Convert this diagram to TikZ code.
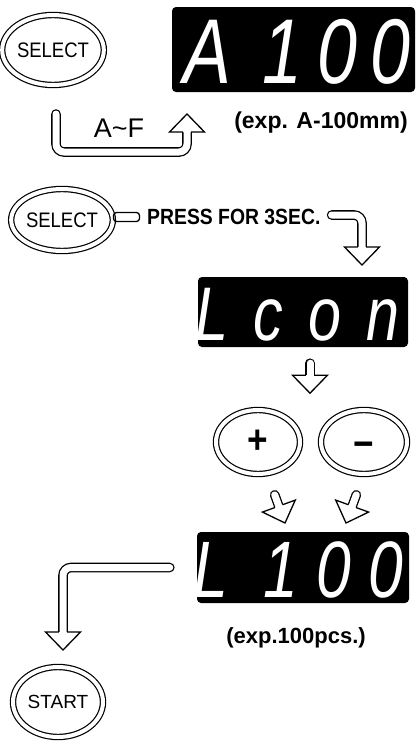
\documentclass[tikz,border=0pt]{standalone}
\usepackage{fontspec}
\setmainfont{Liberation Sans}
\newfontfamily\condfont[FakeStretch=0.88]{Liberation Sans}
\newfontfamily\segfont[FakeStretch=0.78]{Liberation Sans}
\usetikzlibrary{shapes.geometric,calc}
\tikzset{
	button/.style={draw, ellipse, double, double distance=4pt, line width=1.2pt,
			inner sep=0pt, minimum width=84pt, minimum height=68pt,
			font=\condfont\fontsize{21}{21}\selectfont},
	display/.style={fill=black, rounded corners=4pt, inner sep=0pt},
	seg/.style={text=white, inner sep=0pt, anchor=base,
			font=\segfont\itshape\fontsize{#1}{#1}\selectfont},
	note/.style={inner sep=0pt, font=\bfseries\fontsize{#1}{#1}\selectfont},
	hollow/.style={double=white, double distance=7pt, line width=1.3pt,
			line cap=round, rounded corners=8pt},
	pics/hhead/.style={code={
				\draw[line width=1.3pt, fill=white, line join=miter]
				(-4.1,-18) -- (-17.5,-18) -- (0,0) -- (17.5,-18) -- (4.1,-18);}}
}

\begin{document}
\begin{tikzpicture}[x=1pt,y=-1pt]
	\useasboundingbox (0,0) rectangle (418,745);
	\node[button, minimum height=70pt] (sel) at (53,50) {SELECT};
	\node[display, minimum width=243pt, minimum height=85pt] (dispA) at (293.5,49.5) {};
	\foreach \ch/\px [count=\i] in {A/207,1/282,0/337,0/390}
	\node[seg=92] (a\i) at (\px,83) {\ch};
	\node[inner sep=0pt, font=\fontsize{27}{27}\selectfont] (af) at (119,128) {A\textasciitilde F};
	\node[note=23] (expa) at (321,123) {(exp. A-100mm)};
	\coordinate (loopS) at (56,114);
	\coordinate (loopE) at (187,114);
	\draw[hollow] (loopS) |- ($(loopE)+(0,38)$) -- ($(loopE)+(0,18)$);
	\pic[rotate=180] at (loopE) {hhead};

	\node[button, minimum height=62pt] (sel2) at (62,220) {SELECT};
	\node[draw, line width=1.3pt, rounded corners=3pt, minimum width=26pt,
		minimum height=9pt, inner sep=0pt] (bar) at (126.5,217) {};
	\node[note=22, font=\condfont\bfseries\fontsize{22}{22}\selectfont, anchor=west] (press) at (147,217) {PRESS FOR 3SEC.};
	\coordinate (pressE) at (362,265);
	\draw[hollow] ([xshift=11pt,yshift=2pt]press.east) -| ($(pressE)+(0,-18)$);
	\pic at (pressE) {hhead};

	\node[display, minimum width=210pt, minimum height=70pt] (dispL) at (303,312) {};
	\foreach \ch/\px [count=\i] in {L/212,c/268,o/325,n/383}
	\node[seg=76] (l\i) at (\px,340) {\ch};
	\coordinate (downE) at ($(dispL.south)+(7,46)$);
	\draw[hollow] ($(downE)+(0,-30)$) -- ($(downE)+(0,-18)$);
	\pic at (downE) {hhead};

	\node[button, minimum height=64pt] (plus) at (258,442) {\bfseries\fontsize{40}{40}\selectfont +};
	\node[button, minimum width=86pt, minimum height=64pt] (minus) at (364,442) {\bfseries\fontsize{40}{40}\selectfont\vphantom{+}\raisebox{-7pt}{−}};
	\coordinate (tipP) at (285,523);
	\coordinate (tipM) at (346,523);
	\draw[hollow] ($(tipP)+(-10.3,-28.2)$) -- ($(tipP)+(-6.2,-16.9)$);
	\pic[rotate=20] at (tipP) {hhead};
	\draw[hollow] ($(tipM)+(10.3,-28.2)$) -- ($(tipM)+(6.2,-16.9)$);
	\pic[rotate=-20] at (tipM) {hhead};

	\node[display, minimum width=212pt, minimum height=71pt] (dispN) at (303,567.5) {};
	\foreach \ch/\px [count=\i] in {L/211,1/281,0/334,0/386}
	\node[seg=80] (n\i) at (\px,597) {\ch};
	\node[note=22] (expn) at (296,638) {(exp.100pcs.)};
	\coordinate (lT) at (63,650);
	\draw[hollow] ([xshift=-27pt]dispN.west) -| ($(lT)+(0,-18)$);
	\pic at (lT) {hhead};
	\node[button, minimum width=90pt, minimum height=70pt,
		font=\fontsize{19}{19}\selectfont] (start) at (58,702) {START};
\end{tikzpicture}
\end{document}
